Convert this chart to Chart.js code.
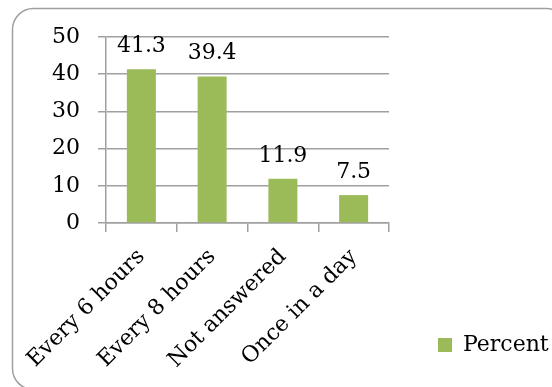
<!DOCTYPE html>
<html>
<head>
<meta charset="utf-8">
<script src="https://cdn.jsdelivr.net/npm/chart.js@4/dist/chart.umd.min.js"></script>
<style>
  html, body { margin: 0; padding: 0; background: #fff; }
  #wrap { width: 552px; height: 387px; position: relative; }
</style>
</head>
<body>
<div id="wrap"><canvas id="c" width="552" height="387"></canvas></div>
<script>
// Dosing frequency responses
const categories = ['Every 6 hours', 'Every 8 hours', 'Not answered', 'Once in a day'];
const percentValues = [41.3, 39.4, 11.9, 7.5];
const seriesName = 'Percent';
const yTicks = [0, 10, 20, 30, 40, 50];

const FONT = '"DejaVu Serif", serif';
const FSIZE = 22;
const GRID = '#a0a0a0';
const BAR = '#9BBB59';

// Rounded frame around the whole chart
const framePlugin = {
  id: 'frame',
  beforeDraw(chart) {
    const ctx = chart.ctx;
    ctx.save();
    ctx.fillStyle = '#fff';
    ctx.fillRect(0, 0, chart.width, chart.height);
    ctx.beginPath();
    ctx.roundRect(12.5, 8.5, 555, 381, 21);
    ctx.strokeStyle = '#a0a0a0';
    ctx.lineWidth = 1.5;
    ctx.stroke();
    ctx.restore();
  }
};

// Value labels above each bar
const valueLabels = {
  id: 'valueLabels',
  afterDatasetsDraw(chart) {
    const ctx = chart.ctx;
    const meta = chart.getDatasetMeta(0);
    ctx.save();
    ctx.font = FSIZE + 'px ' + FONT;
    ctx.fillStyle = '#000';
    ctx.textAlign = 'center';
    ctx.textBaseline = 'alphabetic';
    meta.data.forEach((bar, i) => {
      const v = chart.data.datasets[0].data[i];
      ctx.fillText(String(v), bar.x, bar.y - 17);
    });
    ctx.restore();
  }
};

// The side legend gets a quarter of the usable width, so the layout
// box is widened to the left to give it room for its full label.
new Chart(document.getElementById('c'), {
  type: 'bar',
  data: {
    labels: categories,
    datasets: [{
      label: seriesName,
      data: percentValues,
      backgroundColor: BAR,
      borderWidth: 0,
      barPercentage: 0.41,
      categoryPercentage: 1.0
    }]
  },
  options: {
    responsive: false,
    animation: false,
    events: [],
    layout: { padding: { left: -100, top: 37, right: 0, bottom: -18 } },
    plugins: {
      tooltip: { enabled: false },
      legend: {
        position: 'right',
        align: 'end',
        labels: {
          font: { family: FONT, size: FSIZE },
          color: '#000',
          boxWidth: 14,
          boxHeight: 14,
          padding: 49
        }
      }
    },
    scales: {
      x: {
        afterFit(s) { s.height = 182; },
        grid: { drawOnChartArea: false, drawTicks: true, tickLength: 9, color: GRID, lineWidth: 1.5, offset: true },
        border: { color: GRID, width: 1.5 },
        ticks: {
          autoSkip: false,
          minRotation: 45,
          maxRotation: 45,
          padding: 12,
          font: { family: FONT, size: FSIZE },
          color: '#000'
        }
      },
      y: {
        min: 0,
        max: 50,
        afterFit(s) { s.width = 206; },
        afterBuildTicks(s) { s.ticks = yTicks.map(v => ({ value: v })); },
        grid: { color: GRID, lineWidth: 1.5, tickLength: 8 },
        border: { color: GRID, width: 1.5 },
        ticks: {
          padding: 18,
          font: { family: FONT, size: FSIZE },
          color: '#000'
        }
      }
    }
  },
  plugins: [framePlugin, valueLabels]
});
</script>
</body>
</html>
